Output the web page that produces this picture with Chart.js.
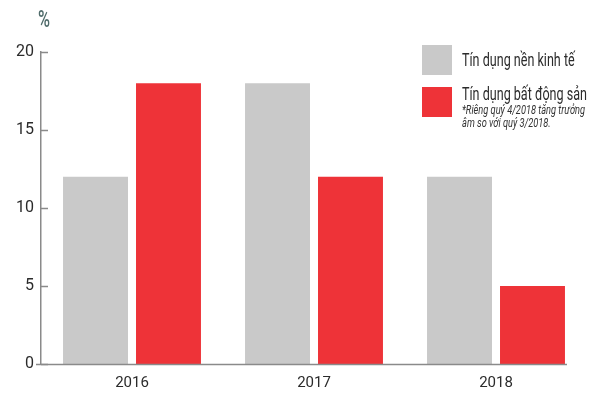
<!DOCTYPE html>
<html>
<head>
<meta charset="utf-8">
<script src="https://cdn.jsdelivr.net/npm/chart.js@4.4.1/dist/chart.umd.min.js"></script>
<style>
  html, body { margin: 0; padding: 0; background: #fff; }
  #wrap { width: 600px; height: 400px; position: relative; }
</style>
</head>
<body>
<div id="wrap"><canvas id="creditChart"></canvas></div>
<script>
const years = ['2016', '2017', '2018'];
const economyCredit = [12, 18, 12];
const realEstateCredit = [18, 12, 5];
const yTicks = [0, 5, 10, 15, 20];
const seriesNames = ['Tín dụng nền kinh tế', 'Tín dụng bất động sản'];
const noteLines = ['*Riêng quý 4/2018 tăng trưởng', 'âm so với quý 3/2018.'];
const unitLabel = '%';

const FONT = 'Roboto, sans-serif';
const GREY = '#c9c9c9';
const RED = '#ee3338';
const AXIS = '#8a8a8a';

// narrow text: the original uses a condensed face, so squeeze horizontally
function narrowText(ctx, text, x, y, squeeze) {
    ctx.save();
    ctx.translate(x, y);
    ctx.scale(squeeze, 1);
    ctx.fillText(text, 0, 0);
    ctx.restore();
}

// draws the % label, inner y ticks, x baseline and the side legend with its note
const extras = {
    id: 'extras',
    afterDraw(chart) {
        const ctx = chart.ctx;
        const y = chart.scales.y;
        const area = chart.chartArea;
        ctx.save();

        ctx.strokeStyle = AXIS;
        ctx.lineWidth = 1.5;
        yTicks.forEach(v => {
            const py = Math.round(y.getPixelForValue(v)) + 0.5;
            ctx.beginPath();
            ctx.moveTo(area.left, py);
            ctx.lineTo(area.left + 7, py);
            ctx.stroke();
        });

        // baseline ends at the last bar
        const lastMeta = chart.getDatasetMeta(chart.data.datasets.length - 1);
        const lastBar = lastMeta.data[lastMeta.data.length - 1];
        const endX = lastBar.x + lastBar.width / 2 + 2;
        const by = Math.round(y.getPixelForValue(0)) + 0.5;
        ctx.beginPath();
        ctx.moveTo(area.left - 5, by);
        ctx.lineTo(endX, by);
        ctx.stroke();

        ctx.fillStyle = '#4f6b6a';
        ctx.font = '500 24px ' + FONT;
        ctx.textAlign = 'left';
        ctx.textBaseline = 'alphabetic';
        const pw = ctx.measureText(unitLabel).width;
        narrowText(ctx, unitLabel, 38, 27, 12 / pw);

        const sets = chart.data.datasets;
        const boxX = 422, boxSize = 30;
        const rows = [45, 87];
        const labelBase = [66, 100];
        ctx.font = '18px ' + FONT;
        const labelSqueeze = 125 / ctx.measureText(sets[1].label).width;
        sets.forEach((ds, i) => {
            ctx.fillStyle = ds.backgroundColor;
            ctx.fillRect(boxX, rows[i], boxSize, boxSize);
            ctx.fillStyle = '#2b2b2b';
            narrowText(ctx, ds.label, 462, labelBase[i], labelSqueeze);
        });
        ctx.font = 'italic 12px ' + FONT;
        ctx.fillStyle = '#333';
        const noteSqueeze = 123 / ctx.measureText(noteLines[0]).width;
        noteLines.forEach((line, i) => {
            narrowText(ctx, line, 462, 114 + i * 13, noteSqueeze);
        });
        ctx.restore();
    }
};

new Chart(document.getElementById('creditChart'), {
    type: 'bar',
    data: {
        labels: years,
        datasets: [{
            label: seriesNames[0],
            data: economyCredit,
            backgroundColor: GREY,
            barPercentage: 0.89,
            categoryPercentage: 0.802
        }, {
            label: seriesNames[1],
            data: realEstateCredit,
            backgroundColor: RED,
            barPercentage: 0.89,
            categoryPercentage: 0.802
        }]
    },
    options: {
        responsive: true,
        maintainAspectRatio: false,
        animation: false,
        layout: { padding: { left: 0, top: 52, right: 13, bottom: 0 } },
        plugins: {
            legend: { display: false },
            tooltip: { enabled: false }
        },
        scales: {
            x: {
                grid: { display: false, drawTicks: false },
                border: { display: false },
                ticks: { color: '#2b2b2b', font: { family: FONT, size: 15 }, padding: 10 },
                afterFit(scale) { scale.height = 36; }
            },
            y: {
                min: 0,
                max: 20,
                grid: { display: false, drawTicks: false },
                border: { display: true, color: AXIS, width: 1.5 },
                ticks: {
                    stepSize: 5,
                    color: '#2b2b2b',
                    font: { family: FONT, size: 16 },
                    padding: 7
                },
                afterFit(scale) { scale.width = 41; }
            }
        }
    },
    plugins: [extras]
});
</script>
</body>
</html>
